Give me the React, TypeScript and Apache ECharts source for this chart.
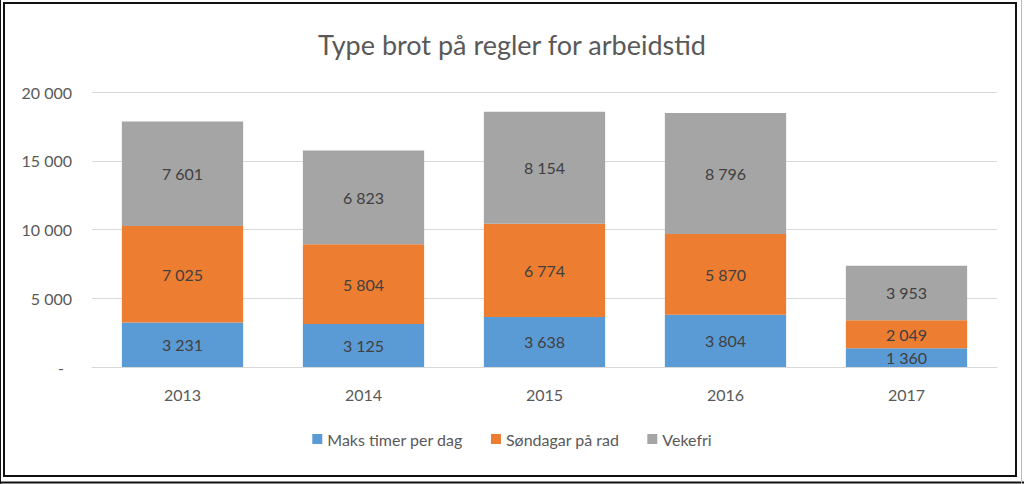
import React, { useEffect, useRef } from "react";
import * as echarts from "echarts";

const categories = ["2013", "2014", "2015", "2016", "2017"];
const maksTimer = [3231, 3125, 3638, 3804, 1360];
const sondagar = [7025, 5804, 6774, 5870, 2049];
const vekefri = [7601, 6823, 8154, 8796, 3953];
const seriesNames = ["Maks timer per dag", "Søndagar på rad", "Vekefri"];
const colors = ["#5B9BD5", "#ED7D31", "#A5A5A5"];

const fmt = (v: number) => String(Math.round(v)).replace(/\B(?=(\d{3})+(?!\d))/g, " ");

export default function App() {
  const ref = useRef<HTMLDivElement>(null);
  useEffect(() => {
    if (!ref.current) return;
    const chart = echarts.init(ref.current, null, { renderer: "svg" });
    const font = "Lato";
    const dataSets = [maksTimer, sondagar, vekefri];
    chart.setOption({
      animation: false,
      backgroundColor: "#ffffff",
      title: {
        text: "Type brot på regler for arbeidstid",
        left: "center",
        top: 26,
        textStyle: { fontFamily: font, fontSize: 27, fontWeight: "normal", color: "#595959" },
      },
      legend: {
        bottom: 32,
        left: "center",
        itemWidth: 10,
        itemHeight: 10,
        itemGap: 28,
        icon: "rect",
        textStyle: { fontFamily: font, fontSize: 16, color: "#595959" },
        data: seriesNames,
      },
      grid: { left: 92, right: 27, top: 92, bottom: 117, containLabel: false },
      xAxis: {
        type: "category",
        data: categories,
        axisLine: { show: true, lineStyle: { color: "#d9d9d9" } },
        axisTick: { show: false },
        axisLabel: { fontFamily: font, fontSize: 16, color: "#595959", margin: 19 },
      },
      yAxis: {
        type: "value",
        min: 0,
        max: 20000,
        interval: 5000,
        axisLine: { show: false },
        axisTick: { show: false },
        splitLine: { lineStyle: { color: "#d9d9d9" } },
        axisLabel: {
          fontFamily: font,
          fontSize: 16,
          color: "#595959",
          margin: 20,
          formatter: (v: number) => (v === 0 ? "{d|-}" : fmt(v)),
          rich: { d: { fontFamily: font, fontSize: 16, color: "#595959", padding: [0, 8, 0, 0] } },
        },
      },
      series: seriesNames.map((name, i) => ({
        name,
        type: "bar",
        stack: "total",
        barWidth: "67%",
        data: dataSets[i],
        itemStyle: { color: colors[i] },
        label: {
          show: true,
          position: "inside",
          fontFamily: font,
          fontSize: 16,
          color: "#404040",
          formatter: (p: any) => fmt(p.value),
        },
      })),
      graphic: [
        { type: "rect", shape: { x: 4, y: 3, width: 1012, height: 473 }, style: { fill: "none", stroke: "#111", lineWidth: 2 } },
        { type: "line", shape: { x1: 0.5, y1: 0, x2: 0.5, y2: 484 }, style: { stroke: "#111", lineWidth: 1 } },
        { type: "line", shape: { x1: 0, y1: 482.5, x2: 1024, y2: 482.5 }, style: { stroke: "#111", lineWidth: 2 } },
        { type: "line", shape: { x1: 1021.5, y1: 0, x2: 1021.5, y2: 484 }, style: { stroke: "#bbb", lineWidth: 1 } },
      ],
    });
    return () => chart.dispose();
  }, []);
  return <div ref={ref} style={{ position: "fixed", left: 0, top: 0, width: 1024, height: 484 }} />;
}
